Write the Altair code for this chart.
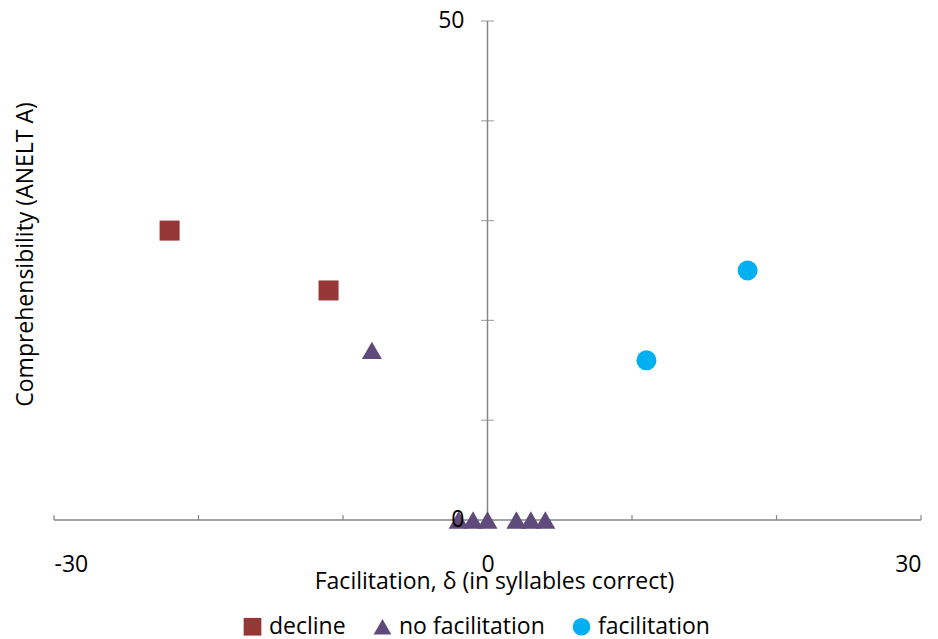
import altair as alt
import pandas as pd

# data
groups = ["decline", "decline",
          "no facilitation", "no facilitation", "no facilitation", "no facilitation",
          "no facilitation", "no facilitation", "no facilitation",
          "facilitation", "facilitation"]
xs = [-22, -11, -8, -2, -1, 0, 2, 3, 4, 11, 18]
ys = [29, 23, 17, 0, 0, 0, 0, 0, 0, 16, 25]

categories = ["decline", "no facilitation", "facilitation"]
colors = ["#953735", "#604A7B", "#00B0F0"]
shapes = ["square", "triangle-up", "circle"]

x_ticks = [-30, -20, -10, 10, 20, 30]
y_ticks = [10, 20, 30, 40, 50]
y_label_values = [0, 50]
x_label_values = [-30, 0, 30]

FONT = "Open Sans"
FS = 23

pts = pd.DataFrame({"x": xs, "y": ys, "group": groups})
axes_df = pd.DataFrame({"x": [0, -30], "x2": [0, 30], "y": [0, 0], "y2": [50, 0]})
ytick_df = pd.DataFrame({"x": [0] * len(y_ticks), "y": y_ticks})
xtick_df = pd.DataFrame({"x": x_ticks, "y": [0] * len(x_ticks), "y2": [0.5] * len(x_ticks)})
ylab_df = pd.DataFrame({"x": [0] * len(y_label_values), "y": y_label_values,
                        "t": [str(v) for v in y_label_values]})

xscale = alt.Scale(domain=[-30, 30], nice=False, zero=False)
yscale = alt.Scale(domain=[0, 50], nice=False, zero=False)
xaxis = alt.Axis(values=x_label_values, domain=False, ticks=False, grid=False,
                 labelExpr="'' + datum.value",
                 labelPadding=33, labelFontSize=FS, labelColor="#000000",
                 title="Facilitation, δ (in syllables correct)", titleFontSize=FS,
                 titleFontWeight="normal", titleColor="#000000", titlePadding=-6,
                 titleX=440)
yaxis = alt.Axis(labels=False, domain=False, ticks=False, grid=False,
                 title="Comprehensibility (ANELT A)", titleFontSize=FS,
                 titleFontWeight="normal", titleColor="#000000", titlePadding=17,
                 titleY=233)

X = alt.X("x:Q", scale=xscale, axis=xaxis)
Y = alt.Y("y:Q", scale=yscale, axis=yaxis)

axis_lines = alt.Chart(axes_df).mark_rule(color="#868686", strokeWidth=1.5).encode(
    x=X, x2="x2:Q", y=Y, y2="y2:Q")

yticks = alt.Chart(ytick_df).mark_tick(orient="horizontal", size=13, thickness=1.2,
                                       color="#868686").encode(x=X, y=Y)

xticks = alt.Chart(xtick_df).mark_rule(color="#868686", strokeWidth=1.2).encode(
    x=X, y=Y, y2="y2:Q")

points = alt.Chart(pts).mark_point(filled=True, size=400, opacity=1).encode(
    x=X, y=Y,
    color=alt.Color("group:N", scale=alt.Scale(domain=categories, range=colors),
                    legend=alt.Legend(orient="none", legendX=187, legendY=594,
                                      direction="horizontal", title=None,
                                      symbolSize=313, labelFontSize=FS, labelFont=FONT,
                                      labelColor="#000000", columnPadding=24,
                                      labelOffset=5, symbolOpacity=1)),
    shape=alt.Shape("group:N", scale=alt.Scale(domain=categories, range=shapes)),
)

ylabels = alt.Chart(ylab_df).mark_text(align="right", baseline="middle", dx=-23,
                                       fontSize=FS, font=FONT, color="#000000").encode(
    x=X, y=Y, text="t:N")

chart = alt.layer(axis_lines, yticks, xticks, points, ylabels).properties(
    width=867, height=499, padding={"left": 6, "top": 2, "right": 5, "bottom": 5}
).configure(font=FONT, view=alt.ViewConfig(stroke=None))

chart.save("out.html", embed_options={"renderer": "svg", "actions": False})
